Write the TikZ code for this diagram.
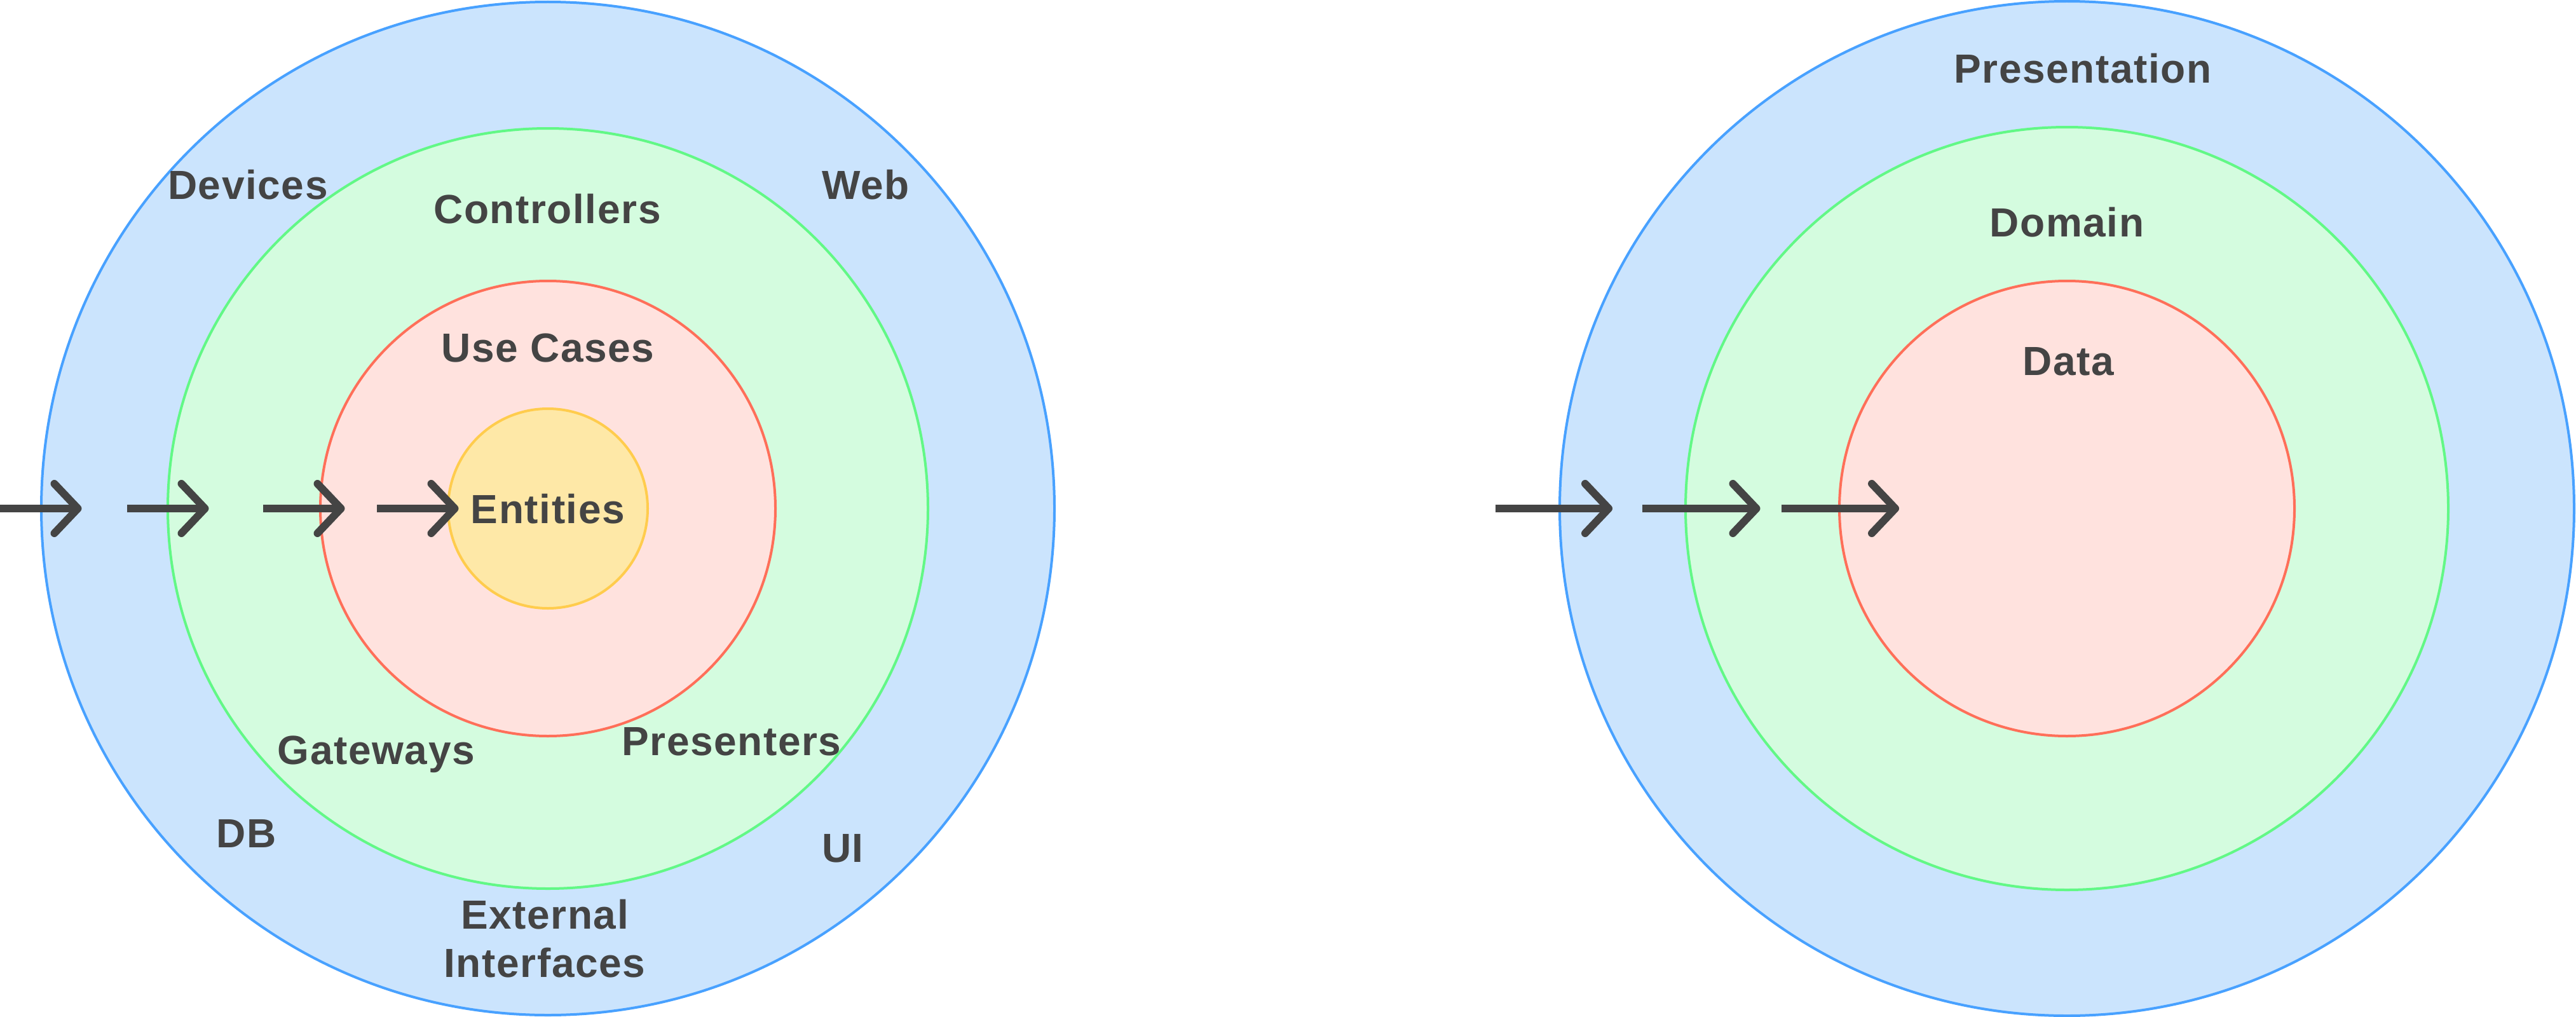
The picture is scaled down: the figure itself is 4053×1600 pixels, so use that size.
\documentclass[tikz,border=0pt]{standalone}
\usepackage{fontspec}
\newfontfamily\lblfont{Liberation Sans}[LetterSpace=2.5]
\definecolor{ink}{RGB}{68,68,68}
\definecolor{bluefill}{RGB}{203,228,253}
\definecolor{bluedraw}{RGB}{72,161,255}
\definecolor{greenfill}{RGB}{212,252,223}
\definecolor{greendraw}{RGB}{98,248,134}
\definecolor{redfill}{RGB}{255,226,222}
\definecolor{reddraw}{RGB}{255,111,89}
\definecolor{yellowfill}{RGB}{254,232,167}
\definecolor{yellowdraw}{RGB}{255,204,77}
\tikzset{
  ring/.style={circle, inner sep=0pt, line width=4pt},
  bluering/.style={ring, fill=bluefill, draw=bluedraw},
  greenring/.style={ring, fill=greenfill, draw=greendraw},
  redring/.style={ring, fill=redfill, draw=reddraw},
  yellowring/.style={ring, fill=yellowfill, draw=yellowdraw},
  lbl/.style={anchor=base, inner sep=0pt, text=ink, font=\lblfont\bfseries\fontsize{64}{64}\selectfont},
  shaft/.style={draw=ink, line width=12pt, line cap=butt},
  barb/.style={draw=ink, line width=12pt, line cap=round, line join=round},
}
\begin{document}
\begin{tikzpicture}[x=1pt, y=-1pt]
\useasboundingbox (0,0) rectangle (4053,1600);
% left diagram
\node[bluering, minimum size=1594pt] (Louter) at (862,800) {};
\node[greenring, minimum size=1196pt] (Lgreen) at (862,800) {};
\node[redring, minimum size=716pt] (Lred) at (862,800) {};
\node[yellowring, minimum size=314pt] (Lyellow) at (862,800) {};
% right diagram
\node[bluering, minimum size=1596pt] (Router) at (3252,800) {};
\node[greenring, minimum size=1200pt] (Rgreen) at (3252,800) {};
\node[redring, minimum size=716pt] (Rred) at (3252,800) {};
% labels left
\node[lbl] (devices) at (390,313) {Devices};
\node[lbl] (web) at (1362,313) {Web};
\node[lbl] (controllers) at (861,351) {Controllers};
\node[lbl] (usecases) at (862,569) {Use Cases};
\node[lbl] (entities) at (862,823) {Entities};
\node[lbl] (gateways) at (592,1202) {Gateways};
\node[lbl] (presenters) at (1151,1188) {Presenters};
\node[lbl] (db) at (388,1333) {DB};
\node[lbl] (ui) at (1326,1356) {UI};
\node[lbl] (external) at (857,1461) {External};
\node[lbl] (interfaces) at (857,1537) {Interfaces};
% labels right
\node[lbl] (presentation) at (3277,131) {Presentation};
\node[lbl] (domain) at (3252,372) {Domain};
\node[lbl] (data) at (3254,590) {Data};
% arrow coordinates
\coordinate (sA1) at (-6,800);   \coordinate (tA1) at (122.5,800);
\coordinate (sA2) at (200,800);  \coordinate (tA2) at (322.5,800);
\coordinate (sA3) at (414,800);  \coordinate (tA3) at (536.5,800);
\coordinate (sA4) at (593,800);  \coordinate (tA4) at (715.5,800);
\coordinate (sB1) at (2353,800); \coordinate (tB1) at (2531,800);
\coordinate (sB2) at (2584,800); \coordinate (tB2) at (2763.5,800);
\coordinate (sB3) at (2803,800); \coordinate (tB3) at (2982,800);
\foreach \a in {A1,A2,A3,A4,B1,B2,B3}{
  \draw[shaft] (s\a) -- (t\a);
  \draw[barb] ([shift={(-37,-39)}]t\a) -- (t\a) -- ([shift={(-37,39)}]t\a);
}
\end{tikzpicture}
\end{document}
